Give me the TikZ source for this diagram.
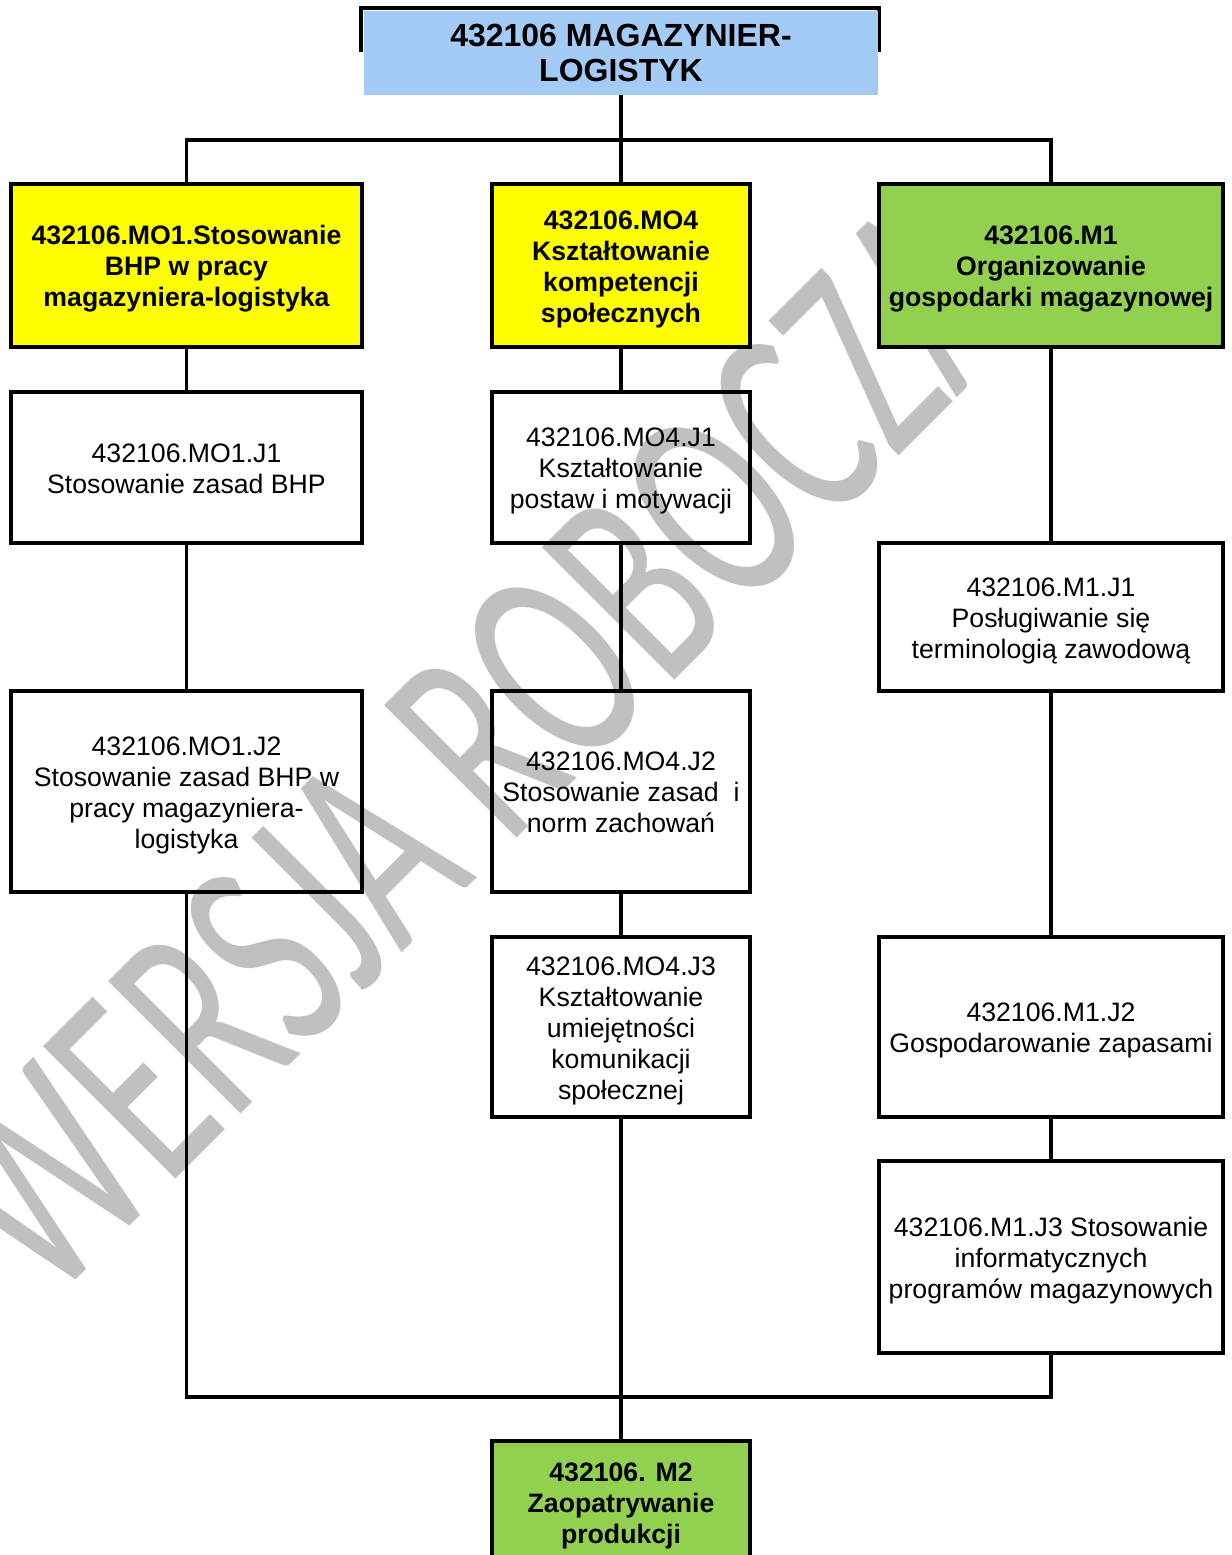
\documentclass[tikz,border=0pt]{standalone}
\usepackage{fontspec}
\setmainfont{Liberation Sans}
\newfontfamily\wmfont{Carlito}
\definecolor{titleblue}{HTML}{A3CBF5}
\definecolor{hiyellow}{HTML}{FFFF00}
\definecolor{higreen}{HTML}{92D050}
\definecolor{wmgray}{HTML}{C0C0C0}
\newcommand{\Tst}{\rule{0pt}{20.5pt}}
\newcommand{\bxbotstrut}{\rule[-5pt]{0pt}{24pt}}
\begin{document}
\begin{tikzpicture}[x=0.75pt,y=-0.75pt,
  bx/.style 2 args={draw=black, line width=2.5pt, minimum width=#1*0.75pt, minimum height=#2*0.75pt,
     inner sep=0pt, outer sep=0pt, align=center, font=\fontsize{20}{23.25}\selectfont,
     execute at end node=\bxbotstrut},
  hd/.style={font=\bfseries\fontsize{20}{23.25}\selectfont},
  conn/.style={draw=black, line width=2.4pt},
  wm/.style={text=wmgray, inner sep=0pt, outer sep=0pt, font=\wmfont\fontsize{219}{219}\selectfont}
]
\useasboundingbox (0,0) rectangle (1231,1555);
% watermark
\node[wm, rotate=45, anchor=base west] (wmark) at (49,1306) {\scalebox{0.64}[1]{WERSJA ROBOCZA}};
% title
\draw[line width=2.4pt] (361,52) -- (361,8) -- (879,8) -- (879,52);
\node[fill=titleblue, minimum width=514*0.75pt, minimum height=84*0.75pt, inner sep=0pt, outer sep=0pt,
  align=center, font=\bfseries\fontsize{24}{26.5}\selectfont] (title) at (621,53) {432106 MAGAZYNIER-\\LOGISTYK};
% level 1
\node[bx={351}{163}, hd, fill=hiyellow] (mo1) at (186.5,265.5) {\Tst 432106.MO1.Stosowanie\\BHP w pracy\\magazyniera-logistyka};
\node[bx={258}{163}, hd, fill=hiyellow] (mo4) at (621,265.5) {\Tst 432106.MO4\\Kształtowanie\\kompetencji\\społecznych};
\node[bx={344}{163}, hd, fill=higreen] (m1) at (1051,265.5) {\Tst 432106.M1\\Organizowanie\\gospodarki magazynowej};
% column MO1
\node[bx={351}{151}] (mo1j1) at (186.5,467.5) {\Tst 432106.MO1.J1\\Stosowanie zasad BHP};
\node[bx={351}{201}] (mo1j2) at (186.5,791.5) {\Tst 432106.MO1.J2\\Stosowanie zasad BHP w\\pracy magazyniera-\\logistyka};
% column MO4
\node[bx={258}{151}] (mo4j1) at (621,467.5) {\Tst 432106.MO4.J1\\Kształtowanie\\postaw i motywacji};
\node[bx={258}{201}] (mo4j2) at (621,791.5) {\Tst 432106.MO4.J2\\Stosowanie zasad\ \ i\\norm zachowań};
\node[bx={258}{180}] (mo4j3) at (621,1027) {\Tst 432106.MO4.J3\\Kształtowanie\\umiejętności\\komunikacji\\społecznej};
% column M1
\node[bx={344}{148}] (m1j1) at (1051,617) {\Tst 432106.M1.J1\\Posługiwanie się\\terminologią zawodową};
\node[bx={344}{180}] (m1j2) at (1051,1027) {\Tst 432106.M1.J2\\Gospodarowanie zapasami};
\node[bx={344}{192}] (m1j3) at (1051,1257) {\Tst 432106.M1.J3 Stosowanie\\informatycznych\\programów magazynowych};
% bottom
\node[bx={258}{122}, hd, fill=higreen] (m2) at (621,1502) {\Tst 432106. M2\\Zaopatrywanie\\produkcji};
% junctions
\coordinate (tj) at (621,140);
\coordinate (bj) at (621,1397);
% connectors
\draw[conn] (title.south) -- (tj);
\draw[conn] (mo1.north) |- (tj) -| (m1.north);
\draw[conn] (tj) -- (mo4.north);
\draw[conn] (mo1.south) -- (mo1j1.north);
\draw[conn] (mo1j1.south) -- (mo1j2.north);
\draw[conn] (mo1j2.south) |- (bj) -| (m1j3.south);
\draw[conn] (mo4.south) -- (mo4j1.north);
\draw[conn] (mo4j1.south) -- (mo4j2.north);
\draw[conn] (mo4j2.south) -- (mo4j3.north);
\draw[conn] (mo4j3.south) -- (m2.north);
\draw[conn] (m1.south) -- (m1j1.north);
\draw[conn] (m1j1.south) -- (m1j2.north);
\draw[conn] (m1j2.south) -- (m1j3.north);
\end{tikzpicture}
\end{document}
